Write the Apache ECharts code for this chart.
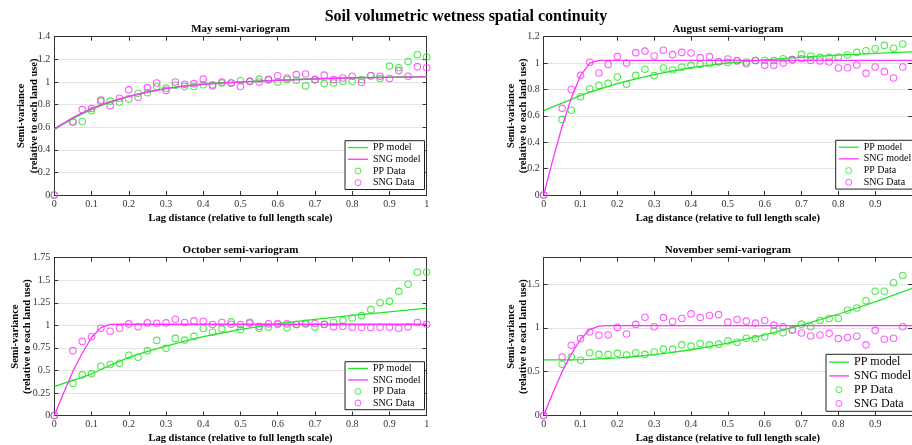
<!DOCTYPE html>
<html>
<head>
<meta charset="utf-8">
<script src="https://cdn.jsdelivr.net/npm/echarts@6/dist/echarts.min.js"></script>
<style>
  html, body { margin: 0; padding: 0; background: #fff; }
  #chart { width: 912px; height: 445px; }
</style>
</head>
<body>
<div id="chart"></div>
<script>
// Lag distances of the experimental semi-variogram (relative to full length scale)
const lag = [0, 0.05, 0.075, 0.1, 0.125, 0.15, 0.175, 0.2, 0.225, 0.25, 0.275, 0.3, 0.325, 0.35, 0.375,
  0.4, 0.425, 0.45, 0.475, 0.5, 0.525, 0.55, 0.575, 0.6, 0.625, 0.65, 0.675, 0.7, 0.725, 0.75, 0.775,
  0.8, 0.825, 0.85, 0.875, 0.9, 0.925, 0.95, 0.975, 1.0];

// Lags at which the fitted models are drawn
const modelLag = [0, 0.025, 0.05, 0.075, 0.1, 0.125, 0.15, 0.175, 0.2, 0.25, 0.3, 0.35, 0.4, 0.45, 0.5,
  0.6, 0.7, 0.8, 0.9, 1.0];

// May
const mayPpData = [0, 0.645, 0.65, 0.745, 0.83, 0.83, 0.82, 0.85, 0.90, 0.905, 0.96, 0.945, 0.97, 0.96, 0.96,
  0.975, 0.975, 0.99, 0.99, 1.01, 1.005, 1.025, 1.02, 1.0, 1.02, 1.015, 0.965, 1.02, 0.985, 0.99, 1.005,
  1.005, 1.02, 1.055, 1.03, 1.14, 1.125, 1.18, 1.24, 1.22];
const maySngData = [0, 0.645, 0.755, 0.765, 0.84, 0.79, 0.855, 0.93, 0.865, 0.95, 0.99, 0.925, 1.0, 0.98, 0.985,
  1.025, 0.965, 1.0, 0.99, 0.96, 1.005, 1.0, 1.02, 1.055, 1.035, 1.065, 1.07, 1.02, 1.06, 1.02, 1.035,
  1.05, 0.995, 1.055, 1.05, 1.03, 1.10, 1.05, 1.135, 1.125];
const mayPpModel = [0.578, 0.628, 0.675, 0.717, 0.755, 0.79, 0.82, 0.846, 0.87, 0.91, 0.943, 0.965, 0.982, 0.993, 1.001,
  1.015, 1.028, 1.037, 1.043, 1.047];
const maySngModel = [0.585, 0.636, 0.684, 0.726, 0.764, 0.797, 0.826, 0.851, 0.873, 0.911, 0.941, 0.962, 0.978, 0.99, 0.999,
  1.014, 1.026, 1.035, 1.041, 1.045];

// August
const augPpData = [0, 0.573, 0.642, 0.745, 0.806, 0.831, 0.846, 0.894, 0.839, 0.907, 0.953, 0.905, 0.963, 0.947, 0.968,
  0.983, 0.99, 0.995, 1.01, 1.005, 1.02, 1.008, 1.02, 1.02, 1.02, 1.033, 1.026, 1.066, 1.054, 1.043, 1.043,
  1.046, 1.061, 1.081, 1.094, 1.109, 1.134, 1.112, 1.145];
const augSngData = [0, 0.657, 0.80, 0.907, 1.006, 0.925, 0.99, 1.049, 1.0, 1.079, 1.091, 1.054, 1.097, 1.064, 1.081,
  1.076, 1.041, 1.049, 1.01, 1.031, 1.016, 0.995, 1.02, 0.983, 0.983, 1.0, 1.026, 1.033, 1.02, 1.016, 1.008,
  0.963, 0.965, 0.985, 0.922, 0.97, 0.935, 0.887, 0.97];
const augPpModel = [0.64, 0.668, 0.696, 0.725, 0.755, 0.778, 0.80, 0.823, 0.845, 0.88, 0.912, 0.94, 0.965, 0.984, 1.0,
  1.025, 1.045, 1.06, 1.073, 1.085];
const augSngModel = [0, 0.27, 0.52, 0.735, 0.905, 1.0, 1.02, 1.02, 1.02, 1.02, 1.02, 1.02, 1.02, 1.02, 1.02,
  1.02, 1.02, 1.02, 1.02, 1.02];

// October
const octPpData = [0, 0.356, 0.451, 0.462, 0.547, 0.565, 0.58, 0.668, 0.646, 0.719, 0.833, 0.745, 0.855, 0.836, 0.877,
  0.965, 0.924, 0.961, 1.038, 0.95, 1.034, 0.968, 0.98, 1.009, 0.972, 1.009, 1.023, 0.98, 1.012, 1.034, 1.053,
  1.082, 1.108, 1.174, 1.251, 1.266, 1.376, 1.456, 1.588, 1.588];
const octSngData = [0, 0.719, 0.822, 0.873, 0.968, 0.935, 0.968, 1.016, 0.983, 1.027, 1.023, 1.027, 1.067, 1.031, 1.049,
  1.045, 1.009, 1.031, 1.012, 1.009, 1.023, 0.99, 1.016, 1.02, 1.016, 1.009, 1.016, 1.02, 1.009, 0.983, 0.99,
  0.976, 0.976, 0.976, 0.979, 0.979, 0.968, 0.983, 1.031, 1.012];
const octPpModel = [0.32, 0.355, 0.39, 0.425, 0.46, 0.51, 0.555, 0.60, 0.645, 0.71, 0.77, 0.825, 0.875, 0.915, 0.955,
  1.02, 1.065, 1.11, 1.15, 1.19];
const octSngModel = [0, 0.25, 0.49, 0.69, 0.865, 0.975, 1.01, 1.012, 1.012, 1.012, 1.012, 1.012, 1.012, 1.012, 1.012,
  1.012, 1.012, 1.012, 1.012, 1.012];

// November
const novPpData = [0, 0.585, 0.667, 0.63, 0.716, 0.697, 0.697, 0.709, 0.69, 0.716, 0.697, 0.724, 0.757, 0.757, 0.806,
  0.791, 0.821, 0.806, 0.814, 0.851, 0.836, 0.881, 0.877, 0.896, 0.964, 0.945, 0.975, 1.042, 1.012, 1.084, 1.106,
  1.106, 1.2, 1.226, 1.309, 1.417, 1.417, 1.515, 1.597];
const novSngData = [0, 0.667, 0.802, 0.877, 0.952, 0.915, 0.919, 1.005, 0.93, 1.039, 1.121, 1.012, 1.117, 1.072, 1.106,
  1.159, 1.117, 1.14, 1.151, 1.065, 1.095, 1.076, 1.054, 1.084, 1.031, 1.012, 0.975, 0.941, 0.907, 0.919, 0.937,
  0.877, 0.889, 0.904, 0.806, 0.971, 0.87, 0.881, 1.012];
const novPpModel = [0.634, 0.634, 0.634, 0.635, 0.637, 0.64, 0.645, 0.65, 0.657, 0.673, 0.695, 0.72, 0.75, 0.785, 0.825,
  0.92, 1.03, 1.155, 1.295, 1.45];
const novSngModel = [0, 0.26, 0.50, 0.70, 0.87, 0.98, 1.02, 1.025, 1.025, 1.025, 1.025, 1.025, 1.025, 1.025, 1.025,
  1.025, 1.025, 1.025, 1.025, 1.025];

// Axis texts
const figTitle = 'Soil volumetric wetness spatial continuity';
const panelTitles = ['May semi-variogram', 'August semi-variogram', 'October semi-variogram', 'November semi-variogram'];
const xName = 'Lag distance (relative to full length scale)';
const yName = 'Semi-variance\n(relative to each land use)';
const seriesNames = ['PP model', 'SNG model', 'PP Data', 'SNG Data'];
const yMax = [1.4, 1.2, 1.75, 1.8];
const yStep = [0.2, 0.2, 0.25, 0.5];

const panelData = [
  { pp: mayPpData, sng: maySngData, ppM: mayPpModel, sngM: maySngModel },
  { pp: augPpData, sng: augSngData, ppM: augPpModel, sngM: augSngModel },
  { pp: octPpData, sng: octSngData, ppM: octPpModel, sngM: octSngModel },
  { pp: novPpData, sng: novSngData, ppM: novPpModel, sngM: novSngModel }
];

// ---- layout & styling ----
const FONT = "'Liberation Serif', 'Times New Roman', serif";
const GREEN = '#22e622';
const MAGENTA = '#ff33ff';
const AXIS = '#333333';
// thin horizontal bar for line legend entries (degenerate sub-paths keep the 20x6 box)
const LINE_ICON = 'path://M0,0L0,0M0,2.35L20,2.35L20,3.65L0,3.65ZM20,6L20,6';

const layout = [
  { left: 54.3, right: 485.3, top: 36.7, bottom: 250, yGap: 14.3, legend: { left: 345, top: 140.7 }, lf: 10, lh: 11.7 },
  { left: 543.7, right: -3.7, top: 36.7, bottom: 250, yGap: 14, legend: { left: 835.7, top: 140.3 }, lf: 10, lh: 11.7 },
  { left: 54.3, right: 485.3, top: 257.7, bottom: 28.3, yGap: 20.6, legend: { left: 345, top: 361.7 }, lf: 10, lh: 11.5 },
  { left: 543.7, right: -3.7, top: 257.7, bottom: 28.3, yGap: 14, legend: { left: 826, top: 354.3 }, lf: 12, lh: 13.75 }
];

const zip = (xs, ys) => ys.map((v, i) => [xs[i], v]);
const isStep = (v, s) => Math.abs(v / s - Math.round(v / s)) < 1e-6;

const grid = [], xAxis = [], yAxis = [], series = [], legend = [];

layout.forEach((L, p) => {
  grid.push({ left: L.left, right: L.right, top: L.top, bottom: L.bottom, containLabel: false });
  const clipRight = L.right < 0;
  const tick = { show: true, inside: true, length: 4, lineStyle: { color: AXIS, width: 1 } };
  const line = { show: true, onZero: false, lineStyle: { color: AXIS, width: 1 } };

  // bottom x axis
  xAxis.push({
    gridIndex: p, type: 'value', min: 0, max: 1, interval: 0.1,
    axisLine: line, axisTick: tick, splitLine: { show: false },
    axisLabel: { color: AXIS, fontFamily: FONT, fontSize: 10, margin: 4, showMaxLabel: !clipRight },
    name: xName, nameLocation: 'middle', nameGap: 17.5, nameMoveOverlap: false,
    nameTextStyle: { color: '#000', fontFamily: FONT, fontSize: 10.5, fontWeight: 'bold' }
  });
  // top x axis (frame + panel title)
  xAxis.push({
    gridIndex: p, type: 'value', position: 'top', min: 0, max: 1, interval: 0.1,
    axisLine: line, axisTick: tick, splitLine: { show: false }, axisLabel: { show: false },
    name: panelTitles[p], nameLocation: 'middle', nameGap: 2.5, nameMoveOverlap: false,
    nameTextStyle: { color: '#000', fontFamily: FONT, fontSize: 11, fontWeight: 'bold', verticalAlign: 'bottom' }
  });
  // left y axis
  yAxis.push({
    gridIndex: p, type: 'value', min: 0, max: yMax[p], interval: yStep[p],
    axisLine: line, axisTick: tick,
    splitLine: { show: true, lineStyle: { color: '#e3e3e3', width: 1 } },
    axisLabel: {
      color: AXIS, fontFamily: FONT, fontSize: 10, margin: 4, showMaxLabel: p !== 3,
      formatter: v => (isStep(v, yStep[p]) ? String(+v.toFixed(3)) : '')
    },
    name: yName, nameLocation: 'middle', nameGap: L.yGap, nameMoveOverlap: false,
    nameTextStyle: { color: '#000', fontFamily: FONT, fontSize: 10.5, fontWeight: 'bold', lineHeight: 12.3 }
  });
  // right y axis (frame)
  yAxis.push({
    gridIndex: p, type: 'value', position: 'right', min: 0, max: yMax[p], interval: yStep[p],
    axisLine: line, axisTick: tick, splitLine: { show: false }, axisLabel: { show: false }
  });

  const D = panelData[p];
  const common = { xAxisIndex: 2 * p, yAxisIndex: 2 * p, animation: false, silent: true };
  series.push(Object.assign({
    type: 'scatter', name: 'PP Data', data: zip(lag, D.pp), symbol: 'circle', symbolSize: 6.5,
    itemStyle: { color: 'rgba(0,0,0,0)', borderColor: GREEN, borderWidth: 1.1 }, z: 3
  }, common));
  series.push(Object.assign({
    type: 'scatter', name: 'SNG Data', data: zip(lag, D.sng), symbol: 'circle', symbolSize: 6.5,
    itemStyle: { color: 'rgba(0,0,0,0)', borderColor: MAGENTA, borderWidth: 1.1 }, z: 3
  }, common));
  series.push(Object.assign({
    type: 'line', name: 'PP model', data: zip(modelLag, D.ppM), symbol: 'none', showSymbol: false,
    smooth: false, lineStyle: { color: GREEN, width: 1.3 }, itemStyle: { color: GREEN }, z: 4
  }, common));
  series.push(Object.assign({
    type: 'line', name: 'SNG model', data: zip(modelLag, D.sngM), symbol: 'none', showSymbol: false,
    smooth: false, lineStyle: { color: MAGENTA, width: 1.3 }, itemStyle: { color: MAGENTA }, z: 4
  }, common));

  legend.push({
    left: L.legend.left, top: L.legend.top, orient: 'vertical',
    backgroundColor: '#fff', borderColor: '#222', borderWidth: 1,
    padding: [1, 4, 1, 3], itemGap: 0, itemWidth: 20, itemHeight: 6,
    selectedMode: false,
    textStyle: { color: '#000', fontFamily: FONT, fontSize: L.lf, lineHeight: L.lh },
    data: [
      { name: seriesNames[0], icon: LINE_ICON, itemStyle: { color: GREEN, borderWidth: 0 } },
      { name: seriesNames[1], icon: LINE_ICON, itemStyle: { color: MAGENTA, borderWidth: 0 } },
      { name: seriesNames[2], itemStyle: { borderWidth: 1 } },
      { name: seriesNames[3], itemStyle: { borderWidth: 1 } }
    ]
  });
});

const chart = echarts.init(document.getElementById('chart'), null, { renderer: 'canvas' });
chart.setOption({
  backgroundColor: '#fff',
  animation: false,
  grid, xAxis, yAxis, series, legend,
  graphic: [{
    type: 'text', x: 466, y: 17,
    style: { text: figTitle, fill: '#000', font: 'bold 16px ' + FONT, textAlign: 'center', textVerticalAlign: 'middle' }
  }]
});
</script>
</body>
</html>
